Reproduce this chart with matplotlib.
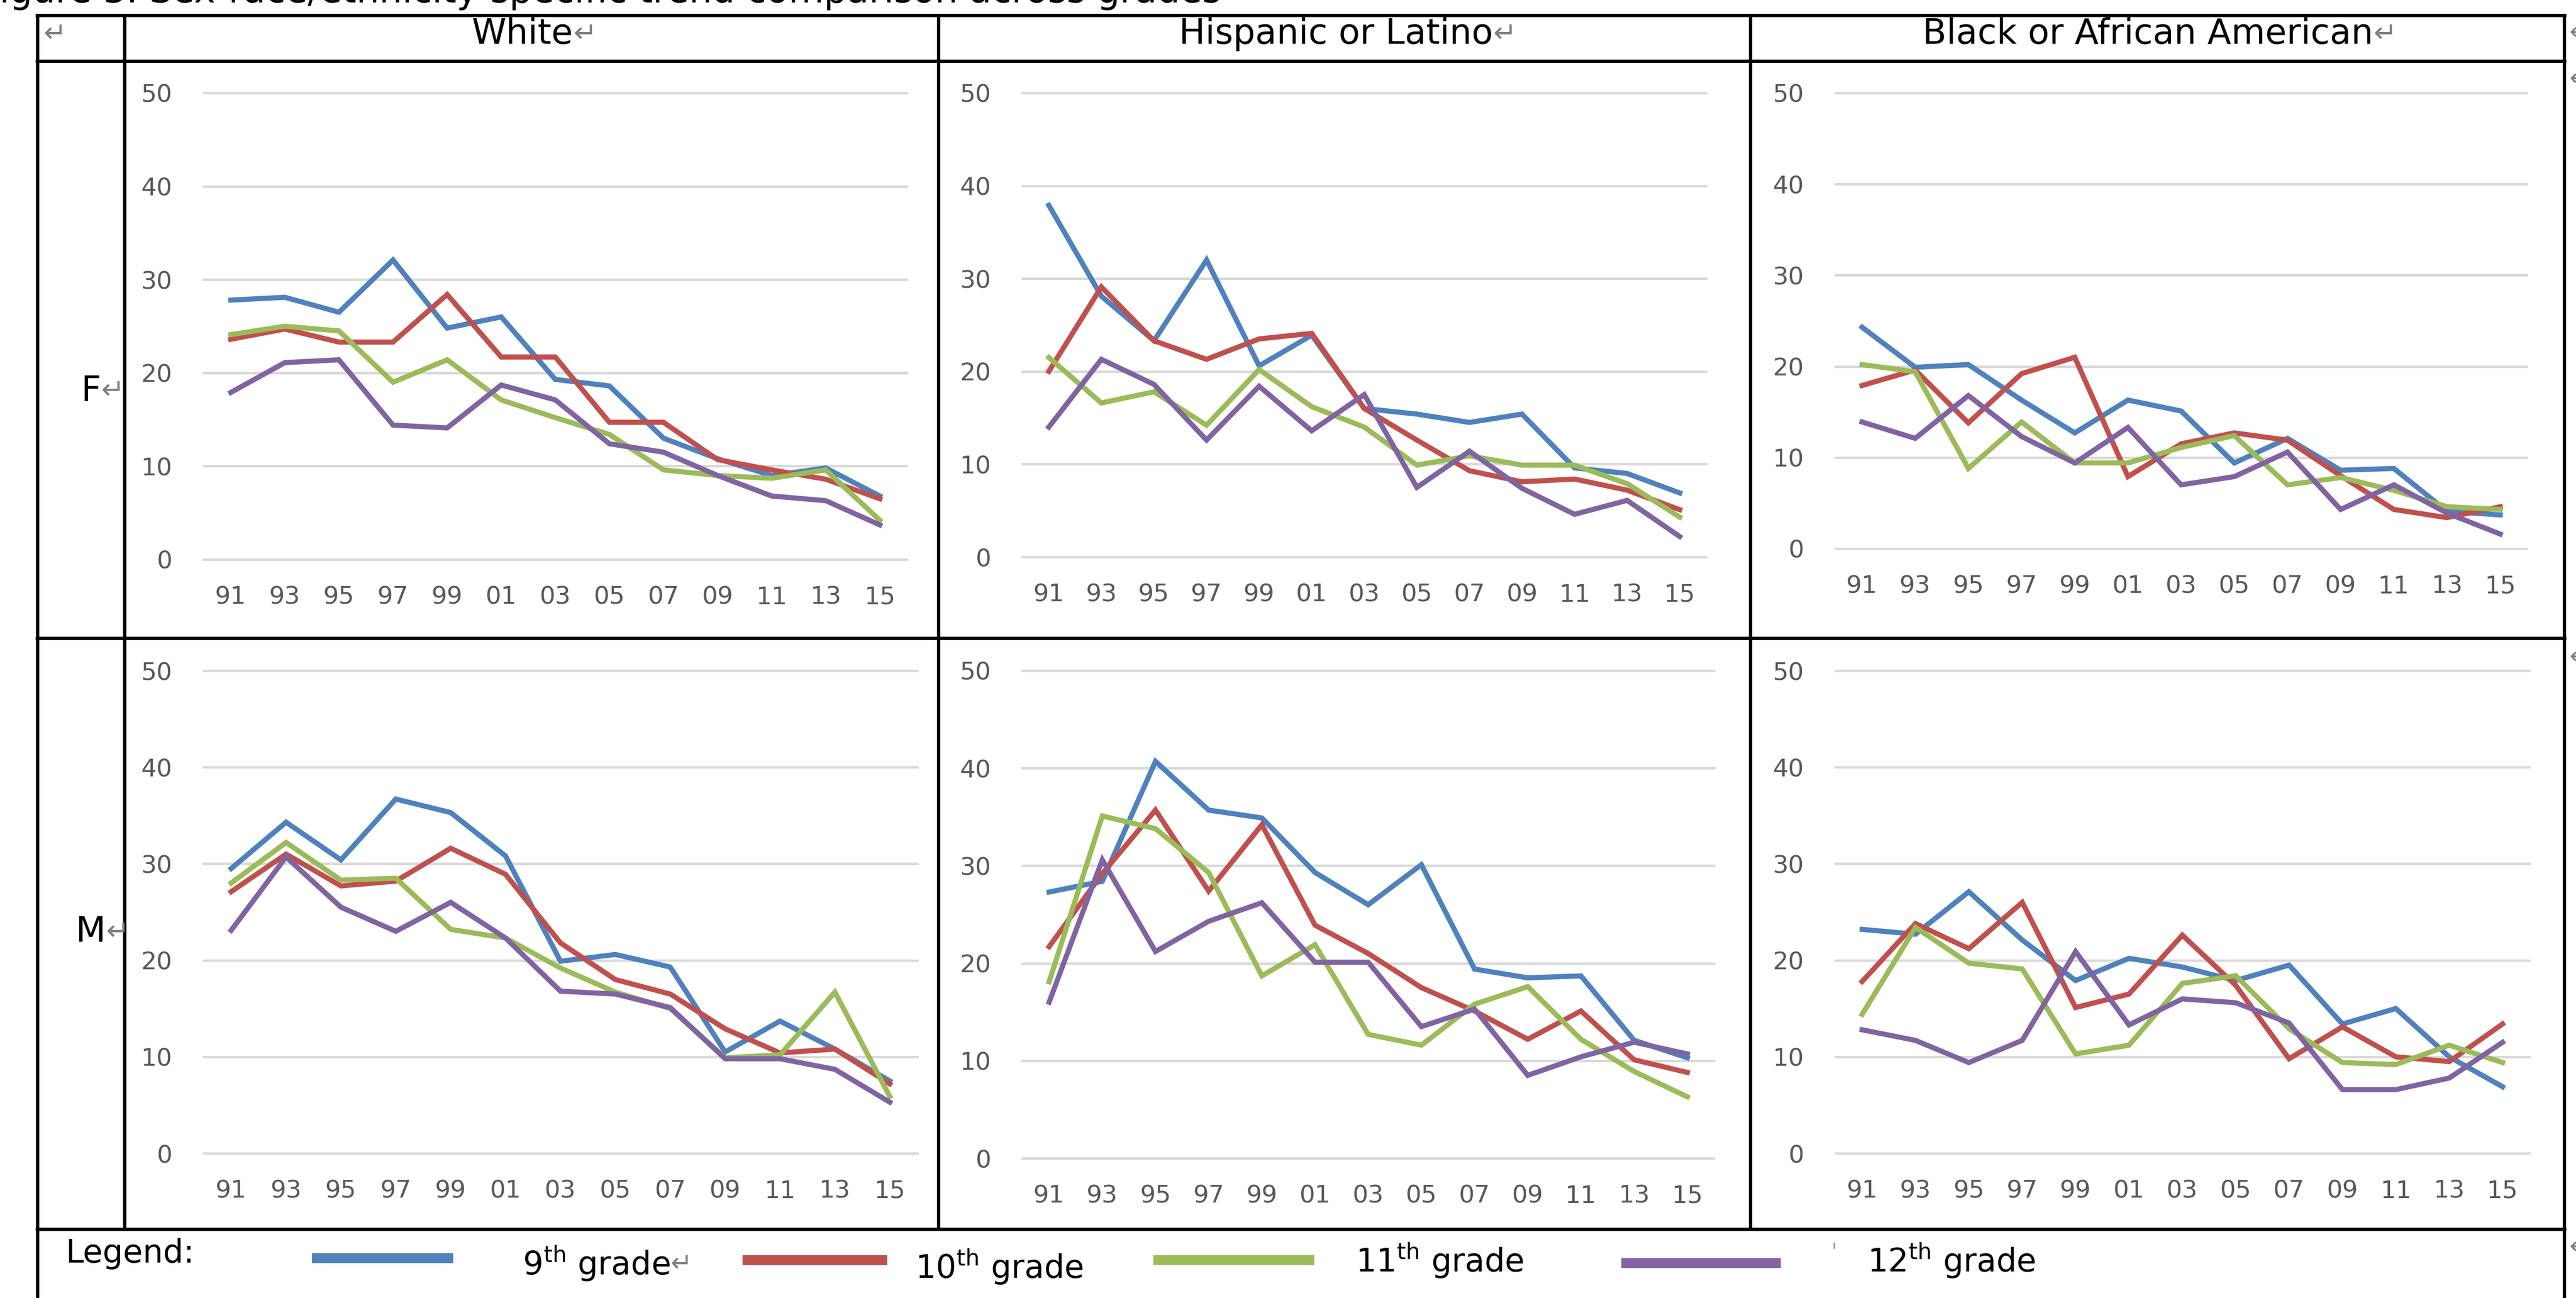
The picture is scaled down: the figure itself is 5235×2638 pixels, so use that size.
import matplotlib
matplotlib.use("Agg")
import matplotlib.pyplot as plt
from matplotlib.lines import Line2D

plt.rcParams['font.family'] = ['DejaVu Sans']
plt.rcParams['mathtext.fontset'] = 'dejavusans'

# ---------------- data ----------------
years = ["91", "93", "95", "97", "99", "01", "03", "05", "07", "09", "11", "13", "15"]
grade_labels = [r"9$^{\mathrm{th}}$ grade", r"10$^{\mathrm{th}}$ grade",
                r"11$^{\mathrm{th}}$ grade", r"12$^{\mathrm{th}}$ grade"]
races = ["White", "Hispanic or Latino", "Black or African American"]
sexes = ["F", "M"]
yticks = [0, 10, 20, 30, 40, 50]

f_white_9 = [27.8, 28.1, 26.5, 32.1, 24.8, 26.0, 19.3, 18.6, 13.0, 10.8, 9.0, 9.8, 6.8]
f_white_10 = [23.6, 24.7, 23.3, 23.3, 28.4, 21.7, 21.7, 14.7, 14.7, 10.7, 9.6, 8.6, 6.5]
f_white_11 = [24.1, 25.0, 24.5, 19.0, 21.4, 17.1, 15.2, 13.4, 9.6, 9.0, 8.7, 9.6, 4.2]
f_white_12 = [17.9, 21.1, 21.4, 14.4, 14.1, 18.7, 17.1, 12.4, 11.5, 9.0, 6.8, 6.3, 3.7]

f_hisp_9 = [37.9, 28.1, 23.3, 32.0, 20.6, 23.9, 16.0, 15.4, 14.5, 15.4, 9.6, 9.0, 6.9]
f_hisp_10 = [20.0, 29.1, 23.3, 21.3, 23.5, 24.1, 16.0, 12.6, 9.3, 8.1, 8.4, 7.2, 5.1]
f_hisp_11 = [21.5, 16.6, 17.8, 14.2, 20.2, 16.2, 14.0, 9.9, 10.9, 9.9, 9.9, 7.9, 4.3]
f_hisp_12 = [14.0, 21.3, 18.6, 12.6, 18.4, 13.6, 17.5, 7.5, 11.4, 7.4, 4.6, 6.1, 2.2]

f_black_9 = [24.3, 19.9, 20.2, 16.3, 12.7, 16.3, 15.1, 9.4, 12.1, 8.6, 8.8, 4.1, 3.7]
f_black_10 = [17.9, 19.6, 13.8, 19.2, 21.0, 7.9, 11.5, 12.7, 11.9, 8.0, 4.3, 3.4, 4.6]
f_black_11 = [20.2, 19.4, 8.8, 13.9, 9.4, 9.4, 11.1, 12.4, 7.0, 7.8, 6.4, 4.6, 4.3]
f_black_12 = [13.9, 12.1, 16.8, 12.3, 9.4, 13.3, 7.0, 7.9, 10.6, 4.3, 7.0, 3.9, 1.6]

m_white_9 = [29.5, 34.3, 30.4, 36.7, 35.3, 30.8, 19.9, 20.6, 19.3, 10.5, 13.7, 10.8, 7.5]
m_white_10 = [27.1, 31.0, 27.7, 28.2, 31.6, 28.9, 21.8, 18.0, 16.5, 12.9, 10.4, 10.8, 7.2]
m_white_11 = [28.0, 32.2, 28.3, 28.5, 23.2, 22.3, 19.2, 16.7, 15.0, 9.9, 10.2, 16.7, 5.9]
m_white_12 = [23.1, 30.7, 25.5, 23.0, 26.0, 22.3, 16.8, 16.5, 15.1, 9.8, 9.8, 8.7, 5.3]

m_hisp_9 = [27.3, 28.4, 40.7, 35.7, 34.9, 29.3, 26.0, 30.1, 19.4, 18.5, 18.7, 12.1, 10.3]
m_hisp_10 = [21.7, 29.2, 35.7, 27.4, 34.2, 23.9, 21.0, 17.5, 15.1, 12.2, 15.1, 10.1, 8.8]
m_hisp_11 = [18.1, 35.1, 33.8, 29.3, 18.7, 21.9, 12.7, 11.6, 15.8, 17.6, 12.2, 8.9, 6.3]
m_hisp_12 = [16.0, 30.6, 21.2, 24.3, 26.2, 20.1, 20.1, 13.5, 15.3, 8.5, 10.4, 11.9, 10.7]

m_black_9 = [23.2, 22.7, 27.1, 22.1, 17.9, 20.2, 19.3, 17.9, 19.5, 13.4, 15.0, 10.0, 6.9]
m_black_10 = [17.8, 23.8, 21.2, 26.0, 15.1, 16.5, 22.6, 17.4, 9.8, 13.1, 10.0, 9.5, 13.4]
m_black_11 = [14.4, 23.4, 19.7, 19.1, 10.3, 11.2, 17.6, 18.4, 12.9, 9.4, 9.2, 11.2, 9.4]
m_black_12 = [12.8, 11.7, 9.4, 11.7, 20.9, 13.3, 16.0, 15.6, 13.5, 6.6, 6.6, 7.8, 11.5]

panel_data = {
    ("F", "White"): [f_white_9, f_white_10, f_white_11, f_white_12],
    ("F", "Hispanic or Latino"): [f_hisp_9, f_hisp_10, f_hisp_11, f_hisp_12],
    ("F", "Black or African American"): [f_black_9, f_black_10, f_black_11, f_black_12],
    ("M", "White"): [m_white_9, m_white_10, m_white_11, m_white_12],
    ("M", "Hispanic or Latino"): [m_hisp_9, m_hisp_10, m_hisp_11, m_hisp_12],
    ("M", "Black or African American"): [m_black_9, m_black_10, m_black_11, m_black_12],
}

# ---------------- styling / layout ----------------
colors = ["#4F81BD", "#C0504D", "#9BBB59", "#8064A2"]
W, H = 5235, 2638
fig = plt.figure(figsize=(W / 100, H / 100), dpi=100)
fig.patch.set_facecolor("white")


def fx(x):
    return x / W


def fy(y):
    return 1 - y / H


# panel rectangles in pixel coords: x_left, x_right, y_of_50, y_of_0
panel_px = {
    ("F", "White"): (414, 1843, 189, 1137),
    ("F", "Hispanic or Latino"): (2078, 3467, 189, 1132),
    ("F", "Black or African American"): (3730, 5135, 189, 1115),
    ("M", "White"): (414, 1864, 1363, 2344),
    ("M", "Hispanic or Latino"): (2078, 3483, 1363, 2354),
    ("M", "Black or African American"): (3730, 5140, 1363, 2344),
}

tick_color = "#595959"
grid_color = "#D9D9D9"

for key, (x0, x1, y50, y0) in panel_px.items():
    ax = fig.add_axes([fx(x0), fy(y0), (x1 - x0) / W, (y0 - y50) / H])
    ax.set_xlim(-0.5, len(years) - 0.5)
    ax.set_ylim(0, 50)
    ax.patch.set_alpha(0)
    for s in ax.spines.values():
        s.set_visible(False)
    for v in yticks:
        ax.axhline(v, color=grid_color, lw=3.6, clip_on=False, zorder=0)
    xs = list(range(len(years)))
    for series, c in zip(panel_data[key], colors):
        ax.plot(xs, series, color=c, lw=7.5, solid_joinstyle="miter",
                clip_on=False, zorder=2)
    ax.set_xticks(xs)
    ax.set_xticklabels(years)
    ax.set_yticks(yticks)
    ax.set_yticklabels([str(v) for v in yticks])
    ax.tick_params(axis="both", length=0, colors=tick_color, labelsize=36)
    ax.tick_params(axis="y", pad=46)
    ax.tick_params(axis="x", pad=38)

# ---------------- table lines ----------------
lw_tab = 4.8
xL, xR = 75.5, 5211
col_lines = [252.5, 1906.5, 3556.5]
h_lines = [30.5, 124, 1297, 2498]
for yy in h_lines:
    fig.add_artist(Line2D([fx(xL - 3.5), fx(xR + 3.5)], [fy(yy), fy(yy)],
                          color="black", lw=lw_tab, solid_capstyle="butt"))
for xx in [xL, xR]:
    fig.add_artist(Line2D([fx(xx), fx(xx)], [fy(28), fy(H + 5)],
                          color="black", lw=lw_tab, solid_capstyle="butt"))
for xx in col_lines:
    fig.add_artist(Line2D([fx(xx), fx(xx)], [fy(28), fy(2498)],
                          color="black", lw=lw_tab, solid_capstyle="butt"))

# ---------------- texts ----------------
arrow_color = "#808080"
renderer = fig.canvas.get_renderer()


def text_with_arrow(x, y, s, size, ha="center", arrow=True, **kw):
    t = fig.text(fx(x), fy(y), s, fontsize=size, ha=ha, va="center",
                 color="black", **kw)
    if arrow:
        ext = t.get_window_extent(renderer)
        fig.text(ext.x1 / W, fy(y), "\u21b5", fontsize=size * 0.8,
                 ha="left", va="center", color=arrow_color)
    return t


# caption cut off at the top
fig.text(fx(2482), fy(5), "Figure 3. Sex-race/ethnicity-specific trend comparison across grades",
         fontsize=53, ha="right", va="baseline", color="black")

# header row
fig.text(fx(88), fy(70), "\u21b5", fontsize=40, ha="left", va="center", color=arrow_color)
header_centers = [1062, 2715, 4365]
for r, cx in zip(races, header_centers):
    text_with_arrow(cx, 70, r, 51)

# row headers
text_with_arrow(185, 795, "F", 51)
text_with_arrow(185, 1895, "M", 51)

# legend
fig.text(fx(134), fy(2548), "Legend:", fontsize=47, ha="left", va="center", color="black")
leg_lines = [(634, 921, 2557), (1509, 1803, 2561), (2344, 2671, 2561), (3295, 3619, 2567)]
leg_text = [(1062, 2568, True), (1860, 2575, False), (2755, 2562, False), (3795, 2562, False)]
for (lx0, lx1, ly), (tx, ty, arr), lab, c in zip(leg_lines, leg_text, grade_labels, colors):
    fig.add_artist(Line2D([fx(lx0), fx(lx1)], [fy(ly), fy(ly)], color=c, lw=14.5,
                          solid_capstyle="butt"))
    t = fig.text(fx(tx), fy(ty), lab, fontsize=47, ha="left", va="center", color="black")
    if arr:
        ext = t.get_window_extent(renderer)
        fig.text(ext.x1 / W, fy(ty), "\u21b5", fontsize=38, ha="left", va="center",
                 color=arrow_color)
fig.text(fx(3722), fy(2545), "'", fontsize=30, ha="left", va="center", color="#A0A0A0")

# end-of-row marks at the right edge
for yy in [67, 161, 1336, 2535]:
    fig.text(fx(5222), fy(yy), "\u21b5", fontsize=34, ha="left", va="center",
             color=arrow_color)

fig.savefig("out.png", dpi=100, facecolor="white")
